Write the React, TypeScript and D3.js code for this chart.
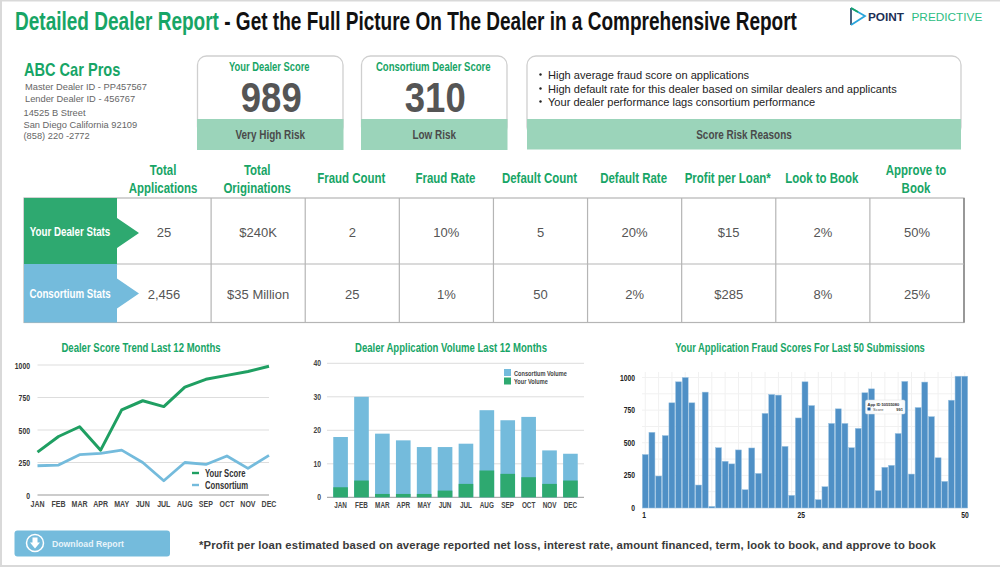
import * as d3 from 'd3';
import type { ReactNode } from 'react';

const GREEN = '#2ea970';
const LINE_GREEN = '#1f9f62';
const TITLE_GREEN = '#17a566';
const BLUE = '#74bbdc';
const SANS = '"Liberation Sans", Arial, sans-serif';

const addressLines = ['Master Dealer ID - PP457567', 'Lender Dealer ID - 456767', '14525 B Street', 'San Diego California 92109', '(858) 220 -2772'];
const reasons = [
    'High average fraud score on applications',
    'High default rate for this dealer based on similar dealers and applicants',
    'Your dealer performance lags consortium performance',
];

const statHeaders = [
    ['Total', 'Applications'], ['Total', 'Originations'], ['Fraud Count'], ['Fraud Rate'], ['Default Count'],
    ['Default Rate'], ['Profit per Loan*'], ['Look to Book'], ['Approve to', 'Book'],
];
const dealerStats = ['25', '$240K', '2', '10%', '5', '20%', '$15', '2%', '50%'];
const consortiumStats = ['2,456', '$35 Million', '25', '1%', '50', '2%', '$285', '8%', '25%'];

const months = ['JAN', 'FEB', 'MAR', 'APR', 'MAY', 'JUN', 'JUL', 'AUG', 'SEP', 'OCT', 'NOV', 'DEC'];
const yourScore = [330, 450, 525, 345, 655, 725, 680, 830, 890, 920, 950, 990];
const consortiumScore = [225, 230, 310, 320, 345, 250, 110, 250, 235, 300, 205, 305];
const scoreTicks = [0, 250, 500, 750, 1000];

const consortiumVolume = [18, 30, 19, 17, 15, 15, 16, 26, 23, 24, 14, 13];
const yourVolume = [3, 5, 1, 1, 1, 2, 4, 8, 7, 6, 4, 5];
const volumeTicks = [0, 10, 20, 30, 40];

const fraudScores = [
    410, 580, 245, 555, 806, 967, 1000, 806, 176, 888, 12, 462, 358, 338, 445, 140, 460, 265, 725, 870,
    865, 472, 97, 690, 967, 785, 64, 163, 648, 760, 648, 462, 610, 883, 913, 133, 312, 327, 571, 970,
    260, 770, 965, 700, 385, 204, 826, 1010, 1010,
];
const fraudTicks = [1, 25, 50];

// no narrow font is installed, so bold Liberation Sans is squeezed horizontally
function Cond({ x, y, size, fill, anchor = 'start', sx = 0.765, children }: {
    x: number; y: number; size: number; fill: string; anchor?: string; sx?: number; children: ReactNode;
}) {
    return (
        <text transform={`translate(${x},${y}) scale(${sx},1)`} textAnchor={anchor} fontFamily={SANS} fontWeight={700} fontSize={size} fill={fill}>
            {children}
        </text>
    );
}

function ScoreCard({ x, w, title, score, risk, titleSx }: { x: number; w: number; title: string; score: string; risk: string; titleSx: number }) {
    return (
        <g>
            <rect x={x} y={56} width={w} height={80} rx={9} fill="#fff" stroke="#cfcfcf" strokeWidth={1.3} />
            <rect x={x - 0.5} y={119} width={w + 1} height={31} fill="#9bd4ba" />
            <Cond x={x + w / 2 - 1} y={71} size={12.5} fill={TITLE_GREEN} anchor="middle" sx={titleSx}>{title}</Cond>
            <text x={x + w / 2 + 1} y={112} textAnchor="middle" fontFamily={SANS} fontWeight={700} fontSize={42} fill="#555" textLength={score.length * 20.3} lengthAdjust="spacingAndGlyphs">{score}</text>
            <Cond x={x + w / 2} y={139} size={13} fill="#4a4a4a" anchor="middle">{risk}</Cond>
        </g>
    );
}

function StatsTable() {
    const left = 24, top = 198, right = 964, mid = 264, bottom = 322.5, labelRight = 117;
    const col = d3.scaleBand<number>().domain(d3.range(9)).range([labelRight, right]);
    const bw = col.bandwidth();
    const arrow = (y0: number, y1: number, tipY: number, half: number) =>
        `M${left},${y0}H${labelRight}V${tipY - half}L139,${tipY}L${labelRight},${tipY + half}V${y1}H${left}Z`;
    return (
        <g>
            {statHeaders.map((lines, i) => lines.map((l, j) => (
                <Cond key={`${i}-${j}`} x={col(i)! + bw / 2 - 1} y={lines.length === 2 ? 175 + j * 17.5 : 182.5} size={15} fill={TITLE_GREEN} anchor="middle">{l}</Cond>
            )))}
            <rect x={left} y={top} width={right - left} height={bottom - top} fill="#fff" stroke="#b5b5b5" strokeWidth={1.2} />
            <line x1={right} x2={right} y1={top} y2={bottom} stroke="#8a8a8a" strokeWidth={1.6} />
            <line x1={left} x2={right} y1={mid} y2={mid} stroke="#b5b5b5" strokeWidth={1.2} />
            {d3.range(1, 9).map((i) => (
                <line key={i} x1={col(i)} x2={col(i)} y1={top} y2={bottom} stroke="#b5b5b5" strokeWidth={1.2} />
            ))}
            <path d={arrow(top, mid, 233, 15)} fill={GREEN} />
            <path d={arrow(mid, bottom, 293.5, 15)} fill={BLUE} />
            <Cond x={70} y={236} size={13} fill="#fff" anchor="middle" sx={0.75}>Your Dealer Stats</Cond>
            <Cond x={70} y={298} size={13} fill="#fff" anchor="middle" sx={0.75}>Consortium Stats</Cond>
            {dealerStats.map((v, i) => (
                <text key={i} x={col(i)! + bw / 2} y={237} textAnchor="middle" fontFamily={SANS} fontSize={13} fill="#555">{v}</text>
            ))}
            {consortiumStats.map((v, i) => (
                <text key={i} x={col(i)! + bw / 2} y={299} textAnchor="middle" fontFamily={SANS} fontSize={13} fill="#555">{v}</text>
            ))}
        </g>
    );
}

function ScoreTrend() {
    const x = d3.scalePoint<string>().domain(months).range([37.5, 269]);
    const y = d3.scaleLinear().domain([0, 1000]).range([495, 365]);
    const line = d3.line<number>().x((_, i) => x(months[i])!).y((d) => y(d));
    return (
        <g>
            <Cond x={141} y={352} size={12.5} fill={TITLE_GREEN} anchor="middle">Dealer Score Trend Last 12 Months</Cond>
            {scoreTicks.map((t) => (
                <g key={t}>
                    <line x1={37.5} x2={269} y1={y(t)} y2={y(t)} stroke={t === 0 ? '#999' : '#ddd'} strokeWidth={1} />
                    <Cond x={30} y={y(t) + 3.5} size={9.5} fill="#333" anchor="end" sx={0.72}>{t}</Cond>
                </g>
            ))}
            {months.map((m) => (
                <Cond key={m} x={x(m)!} y={507} size={9.5} fill="#444" anchor="middle" sx={0.74}>{m}</Cond>
            ))}
            <path d={line(yourScore)!} fill="none" stroke={LINE_GREEN} strokeWidth={3} strokeLinejoin="round" />
            <path d={line(consortiumScore)!} fill="none" stroke={BLUE} strokeWidth={2.8} strokeLinejoin="round" />
            <line x1={192} x2={199} y1={473} y2={473} stroke={LINE_GREEN} strokeWidth={2.4} />
            <line x1={192} x2={199} y1={485} y2={485} stroke={BLUE} strokeWidth={2.4} />
            <Cond x={205} y={477} size={11} fill="#333" sx={0.7}>Your Score</Cond>
            <Cond x={205} y={489} size={11} fill="#333" sx={0.7}>Consortium</Cond>
        </g>
    );
}

function VolumeChart() {
    const x = d3.scaleBand<string>().domain(months).range([327, 584]).padding(0.3);
    const y = d3.scaleLinear().domain([0, 40]).range([497.3, 363.3]);
    return (
        <g>
            <Cond x={451} y={352} size={12.5} fill={TITLE_GREEN} anchor="middle">Dealer Application Volume Last 12 Months</Cond>
            {volumeTicks.map((t) => (
                <g key={t}>
                    <line x1={327} x2={584} y1={y(t)} y2={y(t)} stroke={t === 0 ? '#999' : '#ddd'} strokeWidth={1} />
                    <Cond x={321} y={y(t) + 3} size={8.5} fill="#444" anchor="end" sx={0.8}>{t}</Cond>
                </g>
            ))}
            {months.map((m, i) => (
                <g key={m}>
                    <rect x={x(m)} y={y(consortiumVolume[i])} width={x.bandwidth()} height={y(0) - y(consortiumVolume[i])} fill={BLUE} />
                    <rect x={x(m)} y={y(yourVolume[i])} width={x.bandwidth()} height={y(0) - y(yourVolume[i])} fill={GREEN} />
                    <Cond x={x(m)! + x.bandwidth() / 2} y={508} size={8.5} fill="#444" anchor="middle" sx={0.75}>{m}</Cond>
                </g>
            ))}
            <rect x={504} y={369} width={7} height={7} fill={BLUE} />
            <rect x={504} y={377.5} width={7} height={7} fill={GREEN} />
            <Cond x={514} y={375.5} size={7.5} fill="#444" sx={0.75}>Consortium Volume</Cond>
            <Cond x={514} y={384} size={7.5} fill="#444" sx={0.75}>Your Volume</Cond>
        </g>
    );
}

function FraudChart() {
    const x = d3.scaleBand<number>().domain(d3.range(fraudScores.length)).range([642.3, 967.7]).paddingInner(0.1);
    const y = d3.scaleLinear().domain([0, 1000]).range([508, 377.5]);
    const tickX = d3.scaleLinear().domain([1, 50]).range([644, 965]);
    return (
        <g>
            <Cond x={800} y={352} size={12.5} fill={TITLE_GREEN} anchor="middle" sx={0.75}>Your Application Fraud Scores For Last 50 Submissions</Cond>
            {d3.range(0, 1001, 125).map((t) => (
                <line key={t} x1={642} x2={968} y1={y(t)} y2={y(t)} stroke="#f1f1f1" />
            ))}
            {d3.range(0, fraudScores.length, 2).map((i) => (
                <line key={i} x1={x(i)! + x.bandwidth() / 2} x2={x(i)! + x.bandwidth() / 2} y1={372} y2={508} stroke="#f1f1f1" />
            ))}
            {scoreTicks.map((t) => (
                <Cond key={t} x={635} y={y(t) + 3} size={9} fill="#222" anchor="end" sx={0.75}>{t}</Cond>
            ))}
            {fraudScores.map((v, i) => (
                <rect key={i} x={x(i)} y={y(v)} width={x.bandwidth()} height={y(0) - y(v)} fill="#4f90c6" stroke="#9cc3e2" strokeWidth={0.5} />
            ))}
            {fraudTicks.map((t) => (
                <Cond key={t} x={tickX(t)} y={518} size={9} fill="#222" anchor="middle" sx={0.75}>{t}</Cond>
            ))}
            <rect x={865.5} y={400} width={39.5} height={14} rx={1.5} fill="#fff" fillOpacity={0.95} stroke="#ddd" strokeWidth={0.5} />
            <text x={867.5} y={405.5} fontFamily={SANS} fontWeight={700} fontSize={4} fill="#333">App ID 50555080</text>
            <rect x={867.5} y={407.5} width={3} height={3} fill="#1d5fa3" />
            <text x={873} y={411} fontFamily={SANS} fontSize={4} fill="#555">Score</text>
            <text x={903} y={411} textAnchor="end" fontFamily={SANS} fontWeight={700} fontSize={4} fill="#333">991</text>
        </g>
    );
}

export default function App() {
    return (
        <>
            <style>{'body{margin:0}'}</style>
            <svg width={1000} height={567} style={{ display: 'block', background: '#fff' }}>
                <path d="M1,567V0.5H1000M0,566H1000" fill="none" stroke="#d9d9d9" strokeWidth={2} />

                <Cond x={15} y={30} size={25} fill="#111" sx={0.761}>
                    <tspan fill={TITLE_GREEN}>Detailed Dealer Report</tspan>
                    <tspan> - Get the Full Picture On The Dealer in a Comprehensive Report</tspan>
                </Cond>

                {/* logo */}
                <path d="M851,8V25" stroke="#1f3a5f" strokeWidth={1.6} fill="none" />
                <path d="M851,8L865,16L851,25" stroke="#2aa5dc" strokeWidth={1.8} fill="none" />
                <path d="M851,8L858,12" stroke="#17a566" strokeWidth={1.8} fill="none" />
                <text x={868} y={20.5} fontFamily={SANS} fontWeight={700} fontSize={11.8} fill="#1c2f55">POINT</text>
                <text x={911.5} y={20.5} fontFamily={SANS} fontSize={11.8} fill="#2cbd83">PREDICTIVE</text>

                {/* dealer block */}
                <Cond x={24} y={76} size={18} fill={TITLE_GREEN} sx={0.81}>ABC Car Pros</Cond>
                {addressLines.map((l, i) => (
                    <text key={l} x={i < 2 ? 25 : 23.5} y={[90, 102, 116, 128, 139][i]} fontFamily={SANS} fontSize={9.3} fill="#666">{l}</text>
                ))}

                <ScoreCard x={197.5} w={145.5} title="Your Dealer Score" score="989" risk="Very High Risk" titleSx={0.75} />
                <ScoreCard x={361.5} w={145.5} title="Consortium Dealer Score" score="310" risk="Low Risk" titleSx={0.765} />

                <rect x={527} y={56} width={434} height={80} rx={9} fill="#fff" stroke="#cfcfcf" strokeWidth={1.3} />
                <rect x={527} y={119} width={434} height={30.5} fill="#9bd4ba" />
                {reasons.map((r, i) => (
                    <g key={r} fontFamily={SANS} fontSize={11.07} fill="#222">
                        <circle cx={540.5} cy={[75, 89, 102][i] - 0.5} r={1.2} fill="#222" />
                        <text x={548} y={[79, 93, 106][i]}>{r}</text>
                    </g>
                ))}
                <Cond x={744} y={139} size={13} fill="#4a4a4a" anchor="middle">Score Risk Reasons</Cond>

                <StatsTable />
                <ScoreTrend />
                <VolumeChart />
                <FraudChart />

                {/* download button */}
                <rect x={14.5} y={530.5} width={155.5} height={26} rx={3} fill={BLUE} />
                <circle cx={35} cy={543} r={8.5} fill="none" stroke="#fff" strokeWidth={1.5} />
                <path d="M32.5,537.5H37.5V542.5H40L35,548.5L30,542.5H32.5Z" fill="#fff" />
                <text x={52} y={547} fontFamily={SANS} fontWeight={700} fontSize={8.7} fill="#e8f4fa">Download Report</text>

                <text x={199} y={549} fontFamily={SANS} fontWeight={700} fontSize={11.3} fill="#3a3a3a" letterSpacing={0.13}>*Profit per loan estimated based on average reported net loss, interest rate, amount financed, term, look to book, and approve to book</text>
            </svg>
        </>
    );
}
